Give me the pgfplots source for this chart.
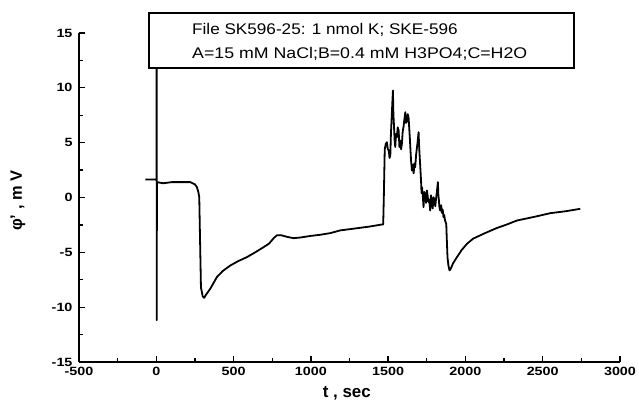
\documentclass[border=0pt]{standalone}
\usepackage{pgfplots}
\pgfplotsset{compat=1.18}
\usepackage{fontspec}
\setmainfont{Liberation Sans}
\begin{document}
\begin{tikzpicture}
\useasboundingbox (0,0) rectangle (639bp,414bp);
\begin{axis}[at={(79bp,52bp)}, anchor=south west, scale only axis,
  width=541bp, height=329bp,
  xmin=-500, xmax=3000, ymin=-15, ymax=15,
  axis x line*=bottom, axis y line*=left,
  axis line style={-, line width=1.4bp},
  xtick={-500,0,...,3000}, ytick={-15,-10,...,15},
  minor x tick num=1, minor y tick num=1,
  tick align=inside, major tick length=6bp, minor tick length=4bp,
  every tick/.style={line width=1.3bp, black},
  ticklabel style={font=\bfseries\fontsize{12}{12}\selectfont},
  xticklabel={\scalebox{1.2}[1]{\pgfmathprintnumber{\tick}}},
  yticklabel={\scalebox{1.2}[1]{\pgfmathprintnumber{\tick}}},
  xticklabel style={yshift=-1.5bp},
  yticklabel style={xshift=-3bp},
  /pgf/number format/assume math mode=true,
  /pgf/number format/1000 sep={},
  scaled ticks=false,
  xlabel={t , sec},
  ylabel={φ' ,  m  V},
  xlabel style={font=\bfseries\fontsize{17}{17}\selectfont, at={(axis description cs:0.495,-0.094)}, anchor=center},
  ylabel style={font=\bfseries\fontsize{16.5}{16.5}\selectfont, at={(axis description cs:-0.113,0.49)}, anchor=center},
]
\addplot[black, line width=1.8bp, line join=round] coordinates {
(-71,1.64) (-10,1.64) (0,1.6) (1,1.6) (2,15.5) (3,-11.2) (4,1.4)
(45,1.3) (100,1.4) (220,1.4) (250,1.2) (263,0.94) (272,0.5) (278,0.03)
(282,-3) (289,-8.2) (300,-9.0) (310,-9.15) (320,-8.9) (350,-8.3) (392,-7.26)
(430,-6.7) (479,-6.2) (530,-5.8) (586,-5.44) (640,-5.0) (694,-4.53)
(730,-4.2) (760,-3.7) (780,-3.45) (810,-3.45) (850,-3.6) (888,-3.71)
(931,-3.65) (1000,-3.5) (1060,-3.4) (1125,-3.25) (1190,-3.0) (1300,-2.8) (1380,-2.65) (1460,-2.46)
(1468,-2.45) (1472,0) (1478,4.4) (1485,4.9) (1492,5.04) (1498,4.4) (1504,4.3) (1509,3.6) (1514,3.83)
(1518,5.8) (1522,7) (1527,8.6) (1531,9.75) (1534,7.6) (1538,6.5) (1542,5.2) (1546,4.6) (1551,5.8) (1557,5.5) (1562,6.4) (1568,6.1)
(1573,4.6) (1578,5.2) (1584,4.4) (1589,4.9) (1594,6.0) (1600,6.5) (1605,7.1) (1611,7.78) (1616,6.8) (1622,7.0) (1627,7.6) (1632,7.32)
(1637,6.2) (1642,5.0) (1648,3.4) (1654,2.46) (1660,3.0) (1665,2.2) (1670,3.1) (1675,2.76) (1681,3.9) (1686,4.5) (1691,5.1) (1697,5.95)
(1700,4.8) (1703,4) (1708,2.76) (1713,1.5) (1716,0.4) (1719,0.94) (1724,0.2) (1729,-0.88) (1734,0.5)
(1740,0.3) (1745,-0.5) (1751,0.64) (1756,0.1) (1760,-0.4) (1766,-0.2) (1772,-1.19) (1777,0.2) (1783,-0.3) (1788,-1.0) (1794,0.03)
(1800,-0.3) (1805,-0.8) (1810,-0.1) (1815,0.5) (1822,1.4) (1825,0.2) (1828,-0.2) (1832,-0.9) (1837,-1.19) (1843,-0.7) (1848,-1.4)
(1853,-1.1) (1858,-1.8) (1863,-1.6) (1868,-2.1) (1876,-2.4) (1880,-4) (1884,-5.44) (1890,-6.2) (1897,-6.65)
(1905,-6.5) (1920,-6.0) (1945,-5.44) (1975,-4.8) (2010,-4.22) (2050,-3.75) (2117,-3.31)
(2200,-2.8) (2270,-2.45) (2333,-2.1) (2450,-1.75) (2549,-1.43) (2650,-1.25) (2743,-1.03)
};
\end{axis}
\draw[line width=1.4bp, fill=white] (149bp,346bp) rectangle (574bp,401bp);
\node[anchor=west, inner sep=0pt, font=\fontsize{15.5}{15.5}\selectfont] at (192bp,384bp) {\scalebox{1.11}[1]{File SK596-25: 1 nmol K; SKE-596}};
\node[anchor=west, inner sep=0pt, font=\fontsize{15.5}{15.5}\selectfont] at (192bp,360bp) {\scalebox{1.15}[1]{A=15 mM NaCl;B=0.4 mM H3PO4;C=H2O}};
\end{tikzpicture}
\end{document}
